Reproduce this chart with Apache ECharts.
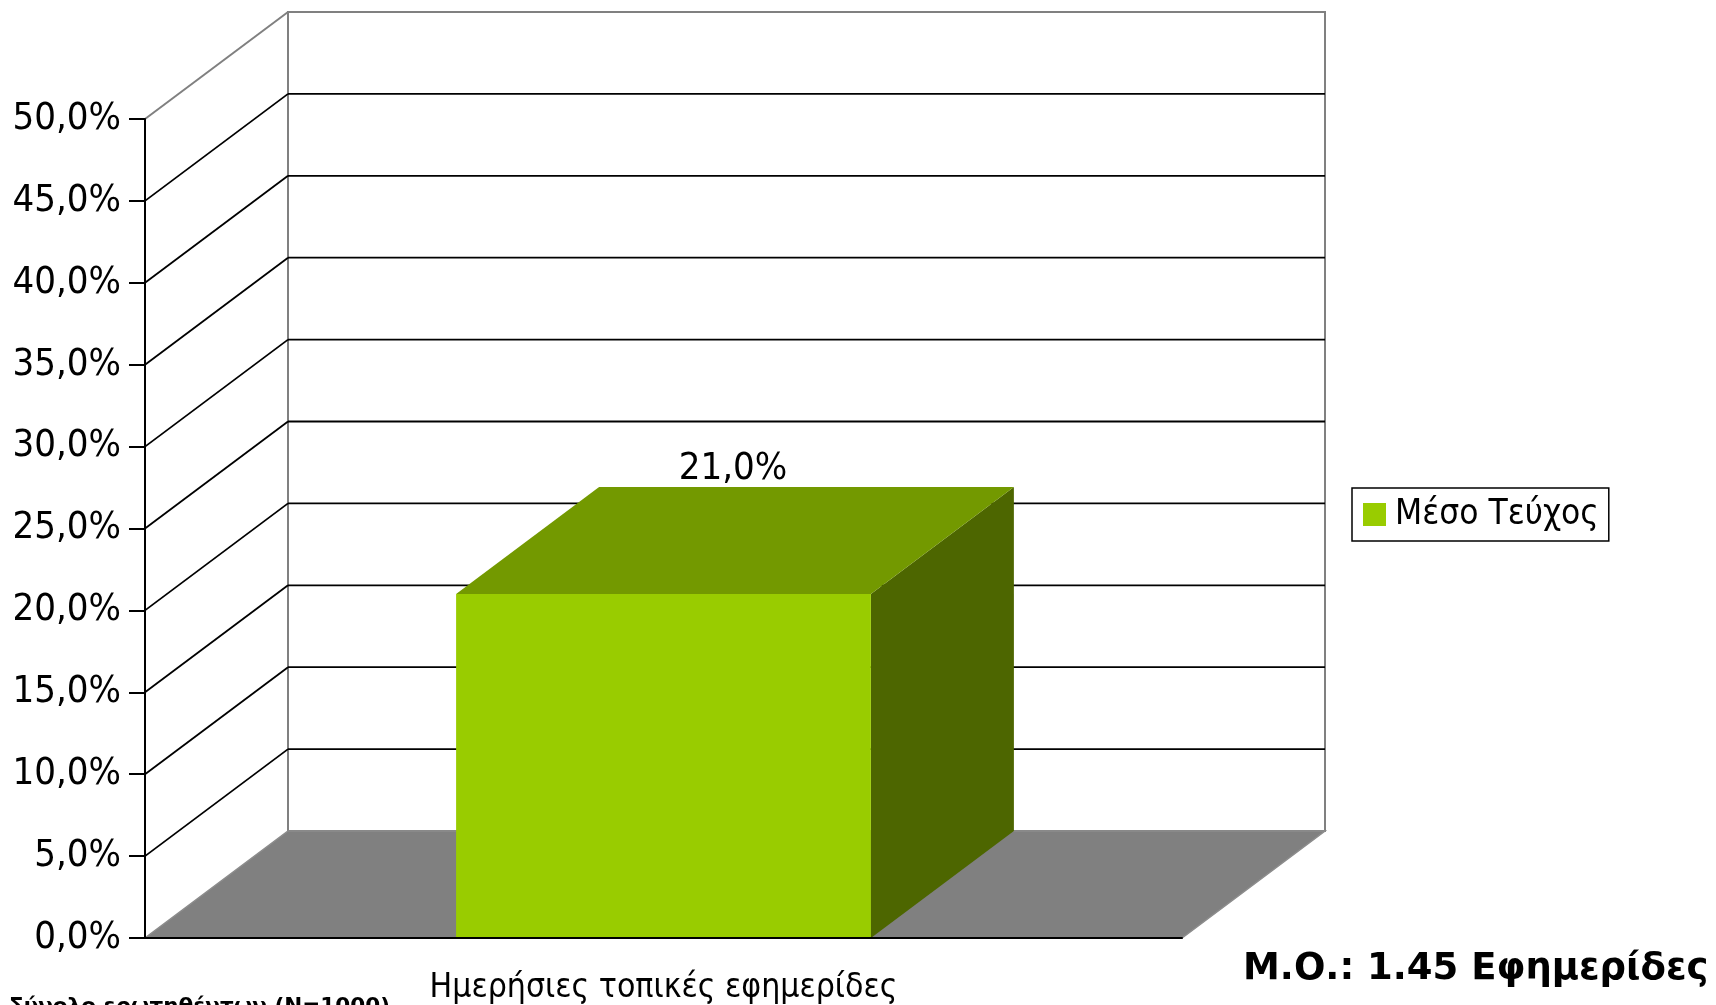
<!DOCTYPE html>
<html><head><meta charset="utf-8">
<script src="https://cdn.jsdelivr.net/npm/echarts@6/dist/echarts.min.js"></script>
<style>html,body{margin:0;padding:0;background:#fff}#c{width:1716px;height:1005px}</style>
</head><body><div id="c"></div>
<script>
// ---- data ----
const categories = ['Ημερήσιες τοπικές εφημερίδες'];
const seriesName = 'Μέσο Τεύχος';
const values = [21.0];
const yTicks = [0, 5, 10, 15, 20, 25, 30, 35, 40, 45, 50];
const meanText = 'Μ.Ο.: 1.45 Εφημερίδες';
const baseText = 'Σύνολο ερωτηθέντων (N=1000)';

// ---- styling ----
const FONT = '"DejaVu Sans Condensed", "DejaVu Sans", sans-serif';
const BOLD = '"DejaVu Sans", sans-serif';
const DX = 143, DY = -107;          // 3D depth offset
const C_FRONT = '#99CC00', C_TOP = '#739900', C_SIDE = '#4D6600';
const fmt = v => v.toFixed(1).replace('.', ',') + '%';
const yMin = yTicks[0], yMax = yTicks[yTicks.length - 1];

const chart = echarts.init(document.getElementById('c'));

function wallsRender(params, api) {
  const cs = params.coordSys;
  const x0 = cs.x, x1 = cs.x + cs.width;
  const yTop = api.coord([0, yMax])[1], yBot = api.coord([0, yMin])[1];
  return { type: 'group', children: [
    { type: 'polygon', shape: { points: [[x0, yTop], [x0, yBot], [x0 + DX, yBot + DY], [x0 + DX, yTop + DY]] },
      style: { fill: '#fff' } },
    { type: 'rect', shape: { x: x0 + DX, y: yTop + DY, width: x1 - x0, height: yBot - yTop },
      style: { fill: '#fff', stroke: '#808080', lineWidth: 2 } },
    { type: 'line', shape: { x1: x0, y1: yTop, x2: x0 + DX, y2: yTop + DY },
      style: { stroke: '#808080', lineWidth: 2 } },
    { type: 'polygon', shape: { points: [[x0, yBot], [x1, yBot], [x1 + DX, yBot + DY], [x0 + DX, yBot + DY]] },
      style: { fill: '#808080', stroke: '#8c8c8c', lineWidth: 1.5 } }
  ]};
}

function gridRender(params, api) {
  const cs = params.coordSys;
  const x0 = cs.x, x1 = cs.x + cs.width;
  const y = api.coord([0, api.value(1)])[1];
  return { type: 'group', children: [
    { type: 'line', shape: { x1: x0, y1: y, x2: x0 + DX, y2: y + DY }, style: { stroke: '#000', lineWidth: 1.8 } },
    { type: 'line', shape: { x1: x0 + DX, y1: y + DY, x2: x1 + DX, y2: y + DY }, style: { stroke: '#000', lineWidth: 1.8 } }
  ]};
}

function barRender(params, api) {
  const cat = api.value(0), val = api.value(1);
  const top = api.coord([cat, val]);
  const bot = api.coord([cat, 0]);
  const bw = api.size([1, 0])[0] * 0.4;
  const l = top[0] - bw / 2, r = top[0] + bw / 2;
  const t = top[1], b = bot[1];
  return { type: 'group', children: [
    { type: 'polygon', shape: { points: [[r, t], [r, b], [r + DX, b + DY], [r + DX, t + DY]] }, style: { fill: C_SIDE } },
    { type: 'polygon', shape: { points: [[l, t], [r, t], [r + DX, t + DY], [l + DX, t + DY]] }, style: { fill: C_TOP } },
    { type: 'rect', shape: { x: l, y: t, width: bw, height: b - t }, style: { fill: C_FRONT } },
    { type: 'text', style: { x: top[0] + DX / 2 - 2, y: t + DY - 18, text: fmt(val), fill: '#000',
      font: '38px ' + FONT, textAlign: 'center', textVerticalAlign: 'middle' } }
  ]};
}

const option = {
  animation: false,
  grid: { left: 145, right: 534, top: 119, bottom: 67, containLabel: false, outerBoundsMode: 'none' },
  legend: {
    data: [{ name: seriesName, icon: 'rect' }],
    left: 1352, top: 488, orient: 'vertical',
    borderColor: '#000', borderWidth: 1.5, padding: [9, 10, 9, 11],
    itemWidth: 23, itemHeight: 23,
    textStyle: { fontSize: 35, fontFamily: FONT, color: '#000', padding: [0, 0, 0, 4] }
  },
  xAxis: {
    type: 'category', data: categories, z: 10,
    axisLine: { lineStyle: { color: '#000', width: 2 } },
    axisTick: { length: 14, lineStyle: { color: '#000', width: 2 } },
    axisLabel: { fontSize: 33.5, fontFamily: FONT, color: '#000', margin: 33 },
    splitLine: { show: false }
  },
  yAxis: {
    type: 'value', min: yMin, max: yMax, interval: yTicks[1] - yTicks[0], z: 10,
    axisLine: { show: true, lineStyle: { color: '#000', width: 2 } },
    axisTick: { show: true, length: 16, lineStyle: { color: '#000', width: 2 } },
    axisLabel: { fontSize: 38, fontFamily: FONT, color: '#000', margin: 24, padding: [14, 0, 0, 0], formatter: v => fmt(v) },
    splitLine: { show: false }
  },
  graphic: [
    { type: 'text', left: 1243, top: 951, style: { text: meanText, font: 'bold 37px ' + BOLD, fill: '#000' } },
    { type: 'text', left: 9, top: 996, style: { text: baseText, font: 'bold 21.5px ' + BOLD, fill: '#000' } }
  ],
  series: [
    { type: 'custom', name: '_walls', renderItem: wallsRender, data: [[0, 0]], z: 1, silent: true },
    { type: 'custom', name: '_grid', renderItem: gridRender,
      data: yTicks.filter(v => v > yMin && v < yMax).map(v => [0, v]), z: 2, silent: true },
    { type: 'custom', name: seriesName, renderItem: barRender, itemStyle: { color: C_FRONT },
      data: values.map((v, i) => [i, v]), z: 3 }
  ]
};
chart.setOption(option);
</script></body></html>
